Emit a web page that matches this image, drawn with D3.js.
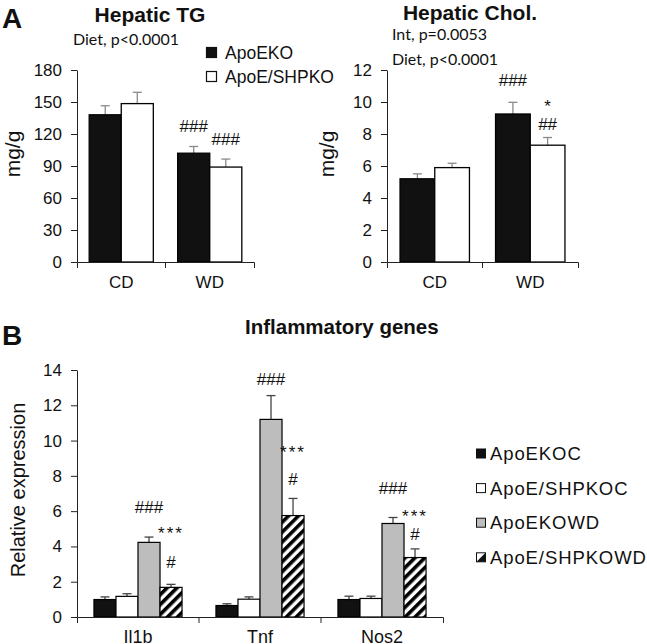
<!DOCTYPE html>
<html><head><meta charset="utf-8">
<script src="https://cdn.jsdelivr.net/npm/d3@7"></script>
<style>
body{margin:0;background:#fff;}
svg{display:block;}
text{font-family:"Liberation Sans",Arial,sans-serif;fill:#111;}
</style></head>
<body>
<script>
// ---------- DATA ----------
const groupsA = ["CD", "WD"];
const seriesA = ["ApoEKO", "ApoE/SHPKO"];
const tgTicks = [0, 30, 60, 90, 120, 150, 180];
const tgApoEKO = [138, 102];
const tgApoEKOErr = [8.5, 6.3];
const tgSHPKO = [148.5, 89];
const tgSHPKOErr = [10.6, 7.5];
const cholTicks = [0, 2, 4, 6, 8, 10, 12];
const cholApoEKO = [5.2, 9.25];
const cholApoEKOErr = [0.31, 0.73];
const cholSHPKO = [5.9, 7.3];
const cholSHPKOErr = [0.27, 0.48];

const genes = ["Il1b", "Tnf", "Nos2"];
const seriesB = ["ApoEKOC", "ApoE/SHPKOC", "ApoEKOWD", "ApoE/SHPKOWD"];
const inflTicks = [0, 2, 4, 6, 8, 10, 12, 14];
const inflApoEKOC = [0.99, 0.65, 0.99];
const inflApoEKOCErr = [0.15, 0.1, 0.19];
const inflSHPKOC = [1.17, 1.01, 1.05];
const inflSHPKOCErr = [0.15, 0.13, 0.13];
const inflApoEKOWD = [4.23, 11.2, 5.3];
const inflApoEKOWDErr = [0.3, 1.35, 0.34];
const inflSHPKOWD = [1.68, 5.75, 3.37];
const inflSHPKOWDErr = [0.17, 0.97, 0.49];

// annotation labels: [text, group, series index, label baseline in data units]
const tgMarks = [["###", "WD", 0, 122], ["###", "WD", 1, 109.7]];
const cholMarks = [["###", "WD", 0, 11.0], ["*", "WD", 1, 9.35], ["##", "WD", 1, 8.25]];
const inflMarks = [
  ["###", "Il1b", 2, 5.89], ["***", "Il1b", 3, 4.4], ["#", "Il1b", 3, 2.8],
  ["###", "Tnf", 2, 13.15], ["***", "Tnf", 3, 9.0], ["#", "Tnf", 3, 7.5],
  ["###", "Nos2", 2, 6.96], ["***", "Nos2", 3, 5.4], ["#", "Nos2", 3, 4.38]
];

// ---------- DRAW ----------
const W = 647, H = 644;
const svg = d3.select("body").append("svg").attr("width", W).attr("height", H);
svg.append("rect").attr("width", W).attr("height", H).attr("fill", "#fff");

const defs = svg.append("defs");
const pat = defs.append("pattern").attr("id", "hatch").attr("patternUnits", "userSpaceOnUse")
  .attr("width", 7).attr("height", 7).attr("patternTransform", "rotate(45)");
pat.append("rect").attr("width", 7).attr("height", 7).attr("fill", "#fff");
pat.append("rect").attr("width", 3.6).attr("height", 7).attr("fill", "#000");

function panel(opt) {
  const g = svg.append("g");
  const y = d3.scaleLinear().domain(opt.domain).range([opt.y0, opt.y1]);
  const x = d3.scaleBand().domain(opt.groups).range([opt.x0, opt.x1]).padding(0);
  const sub = d3.scaleBand().domain(d3.range(opt.series.length)).range([0, x.bandwidth()])
    .paddingInner(0).paddingOuter(opt.outer);

  // y axis
  const ya = g.append("g").attr("transform", `translate(${opt.x0},0)`)
    .call(d3.axisLeft(y).tickValues(opt.ticks).tickSize(6).tickSizeOuter(0).tickPadding(opt.tickPad || 9));
  ya.selectAll("text").style("font-size", opt.tickFont + "px").attr("fill", "#111");
  ya.selectAll("line,path").attr("stroke", "#222");

  // bars
  opt.series.forEach((s, si) => {
    const vals = opt.values[si], errs = opt.errs[si];
    const data = opt.groups.map((gname, gi) => ({ g: gname, v: vals[gi], e: errs[gi] }));
    const bx = d => x(d.g) + sub(si);
    // error bars (upper only)
    const eg = g.append("g").attr("stroke", opt.errColor).attr("stroke-width", 1.3);
    eg.selectAll("line.v").data(data).join("line")
      .attr("x1", d => bx(d) + sub.bandwidth() / 2).attr("x2", d => bx(d) + sub.bandwidth() / 2)
      .attr("y1", d => y(d.v)).attr("y2", d => y(d.v + d.e));
    eg.selectAll("line.c").data(data).join("line")
      .attr("x1", d => bx(d) + sub.bandwidth() / 2 - opt.cap).attr("x2", d => bx(d) + sub.bandwidth() / 2 + opt.cap)
      .attr("y1", d => y(d.v + d.e)).attr("y2", d => y(d.v + d.e));
    g.selectAll(null).data(data).join("rect")
      .attr("x", bx).attr("width", sub.bandwidth())
      .attr("y", d => y(d.v)).attr("height", d => y(0) - y(d.v))
      .attr("fill", opt.fills[si]).attr("stroke", "#000").attr("stroke-width", opt.barStroke);
  });

  // x axis
  const xa = g.append("g").attr("transform", `translate(0,${opt.y0})`)
    .call(d3.axisBottom(x).tickSize(0).tickSizeOuter(6).tickPadding(opt.catPad));
  xa.selectAll("text").style("font-size", opt.catFont + "px").attr("fill", "#111");
  xa.selectAll("path").attr("stroke", "#222");
  // inner boundary ticks
  xa.selectAll("line.b").data(opt.groups.slice(1)).join("line")
    .attr("x1", d => x(d)).attr("x2", d => x(d)).attr("y1", 0).attr("y2", 6).attr("stroke", "#222");

  // annotations
  g.selectAll("text.ann").data(opt.marks).join("text")
    .attr("x", d => x(d[1]) + sub(d[2]) + sub.bandwidth() / 2)
    .attr("y", d => y(d[3]))
    .attr("text-anchor", "middle").style("font-size", opt.annFont + "px")
    .style("letter-spacing", d => d[0] === "***" ? "2px" : "0px")
    .text(d => d[0]);
  return { x, y };
}

// Panel A – Hepatic TG
panel({
  domain: [0, 180], ticks: tgTicks, y0: 262, y1: 70, x0: 77, x1: 254,
  groups: groupsA, series: seriesA, outer: 0.38,
  values: [tgApoEKO, tgSHPKO], errs: [tgApoEKOErr, tgSHPKOErr],
  fills: ["#111", "#fff"], errColor: "#8a8a8a", cap: 4.5, barStroke: 1.3,
  tickFont: 17, catFont: 17, catPad: 14, annFont: 17, marks: tgMarks
});
// Panel A – Hepatic Chol.
panel({
  domain: [0, 12], ticks: cholTicks, y0: 262, y1: 70, x0: 387, x1: 578,
  groups: groupsA, series: seriesA, outer: 0.376,
  values: [cholApoEKO, cholSHPKO], errs: [cholApoEKOErr, cholSHPKOErr],
  fills: ["#111", "#fff"], errColor: "#8a8a8a", cap: 4.5, barStroke: 1.3,
  tickFont: 17, catFont: 17, catPad: 14, annFont: 17, marks: cholMarks
});
// Panel B – Inflammatory genes
panel({
  domain: [0, 14], ticks: inflTicks, y0: 617, y1: 370, x0: 77, x1: 443,
  groups: genes, series: seriesB, outer: 0.77,
  values: [inflApoEKOC, inflSHPKOC, inflApoEKOWD, inflSHPKOWD],
  errs: [inflApoEKOCErr, inflSHPKOCErr, inflApoEKOWDErr, inflSHPKOWDErr],
  fills: ["#111", "#fff", "#bdbdbd", "url(#hatch)"], errColor: "#444", cap: 4.5, barStroke: 1.2,
  tickFont: 17, catFont: 18, catPad: 13, annFont: 17, marks: inflMarks
});

// ---------- TEXT ----------
svg.append("text").attr("x", 2).attr("y", 28).style("font-size", "28px").style("font-weight", "bold").text("A");
svg.append("text").attr("x", 2).attr("y", 345).style("font-size", "28px").style("font-weight", "bold").text("B");
svg.append("text").attr("x", 150).attr("y", 22).attr("text-anchor", "middle")
  .style("font-size", "21px").style("font-weight", "bold").text("Hepatic TG");
svg.append("text").attr("x", 470).attr("y", 20).attr("text-anchor", "middle")
  .style("font-size", "21px").style("font-weight", "bold").text("Hepatic Chol.");
svg.append("text").attr("x", 245).attr("y", 334).attr("text-anchor", "start")
  .style("font-size", "20.5px").style("font-weight", "bold").text("Inflammatory genes");

const small = (x, y, t) => svg.append("text").attr("x", x).attr("y", y)
  .style("font-family", "Lato,'Open Sans',sans-serif").style("font-size", "16px").text(t);
small(73, 45, "Diet, p<0.0001");
small(392, 40, "Int, p=0.0053");
small(392, 65, "Diet, p<0.0001");

const ylab = (x, y, t, fs) => svg.append("text").attr("transform", `translate(${x},${y}) rotate(-90)`)
  .attr("text-anchor", "middle").style("font-size", fs + "px").text(t);
ylab(20, 154, "mg/g", 21);
ylab(334, 154, "mg/g", 21);
ylab(25, 490, "Relative expression", 20);

// Legend A
const legA = svg.append("g");
seriesA.forEach((s, i) => {
  legA.append("rect").attr("x", 206.5).attr("y", 47.5 + i * 24).attr("width", 10).attr("height", 10)
    .attr("fill", i === 0 ? "#111" : "#fff").attr("stroke", "#111").attr("stroke-width", 1.2);
  legA.append("text").attr("x", 225).attr("y", 59 + i * 24).style("font-size", "17.5px").text(s);
});

// Legend B
const legB = svg.append("g");
const legFills = ["#111", "#fff", "#bdbdbd", "#fff"];
seriesB.forEach((s, i) => {
  const yy = 449 + i * 34.6;
  legB.append("rect").attr("x", 476.5).attr("y", yy).attr("width", 9).attr("height", 9)
    .attr("fill", legFills[i]).attr("stroke", "#111").attr("stroke-width", 1);
  if (i === 3) {
    legB.append("path").attr("d", `M${476.5},${yy + 9}L${485.5},${yy}L${485.5},${yy + 9}Z`).attr("fill", "#111");
  }
  legB.append("text").attr("x", 490).attr("y", yy + 11).style("font-size", "18.5px")
    .style("letter-spacing", "0.9px").text(s);
});
</script>
</body></html>
